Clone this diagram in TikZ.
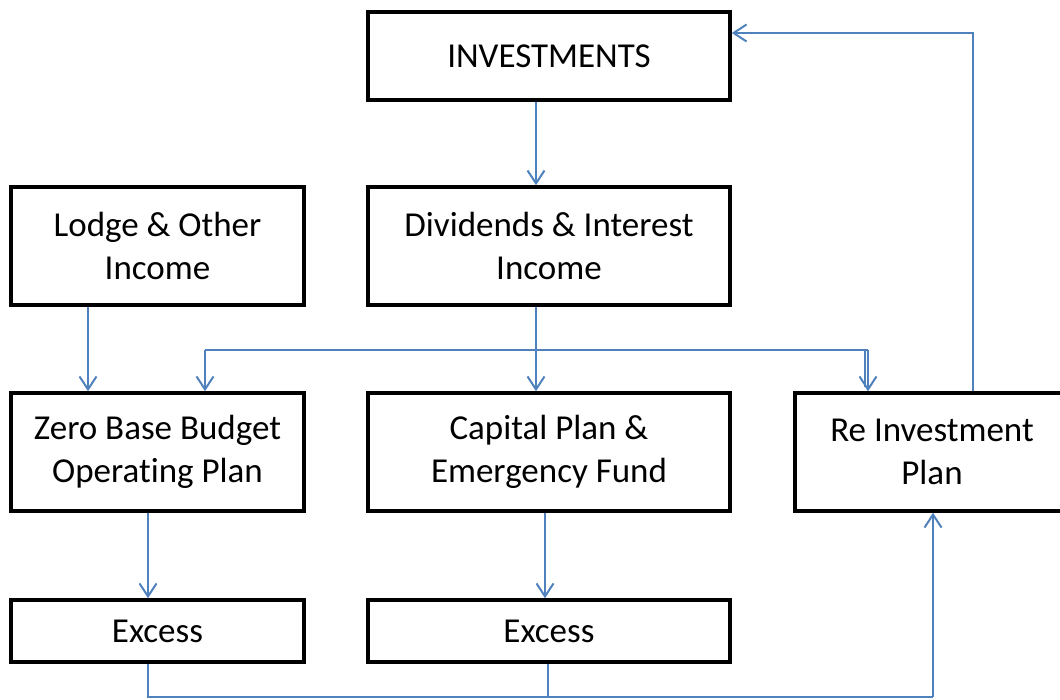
\documentclass[tikz,border=0pt]{standalone}
\usepackage{fontspec}
\setmainfont[Ligatures=NoCommon]{Carlito}
\usetikzlibrary{arrows.meta}
\definecolor{flowblue}{RGB}{79,129,189}
\begin{document}
\begin{tikzpicture}[x=1pt,y=-1pt,
  box/.style={draw=black,line width=3.5pt,fill=white,align=center,
    inner sep=0pt,font=\fontsize{35}{43}\selectfont},
  flow/.style={draw=flowblue,line width=2pt},
  arr/.style={flow,-{Straight Barb[length=13pt,width=17pt,line width=2pt]}}]
\useasboundingbox (0,0) rectangle (1060,700);
\begin{scope}
\clip (0,0) rectangle (1060,700);
% boxes
\node[box,minimum width=362pt,minimum height=88pt] (inv) at (549,56) {INVESTMENTS};
\node[box,minimum width=293pt,minimum height=118pt] (lodge) at (157.5,246) {Lodge \& Other\\Income};
\node[box,minimum width=362pt,minimum height=118pt] (div) at (549,246) {Dividends \& Interest\\Income};
\node[box,minimum width=293pt,minimum height=118pt] (zero) at (157.5,452) {Zero Base Budget\\Operating Plan};
\node[box,minimum width=362pt,minimum height=118pt] (cap) at (549,452) {Capital Plan \&\\Emergency Fund};
\node[box,minimum width=274pt,minimum height=118pt] (reinv) at (932,452) {Re Investment\\Plan};
\node[box,minimum width=293pt,minimum height=62pt] (ex1) at (157.5,631) {Excess};
\node[box,minimum width=362pt,minimum height=62pt] (ex2) at (549,631) {Excess};
% junction points
\coordinate (sl) at (205,350);
\coordinate (sr) at (868,350);
\coordinate (b1) at (148,697);
\coordinate (b2) at (548,697);
\coordinate (b3) at (933,697);
\coordinate (top) at (973,33);
% connectors
\draw[arr] ([xshift=-13pt]inv.south) -- ([xshift=-13pt]div.north);
\draw[arr] ([xshift=-69.5pt]lodge.south) -- ([xshift=-69.5pt]zero.north);
\draw[arr] ([xshift=-13pt]div.south) -- ([xshift=-13pt]cap.north);
\draw[flow] (sl) -- (sr);
\draw[arr] (sl) -- (sl |- zero.north);
\draw[arr] (sr) -- (sr |- reinv.north);
\draw[flow,line width=1.5pt] ([xshift=-3pt]sr) -- ([xshift=-3pt,yshift=4pt]sr |- reinv.north);
\draw[arr] ([xshift=-9.5pt]zero.south) -- ([xshift=-9.5pt]ex1.north);
\draw[arr] ([xshift=-4pt]cap.south) -- ([xshift=-4pt]ex2.north);
\draw[flow] (b1 |- ex1.south) -- (b1) -- (b3);
\draw[flow] (b2 |- ex2.south) -- (b2);
\draw[arr] (b3) -- (b3 |- reinv.south);
\draw[arr] (top |- reinv.north) -- (top) -- (top -| inv.east);
\end{scope}
\end{tikzpicture}
\end{document}
